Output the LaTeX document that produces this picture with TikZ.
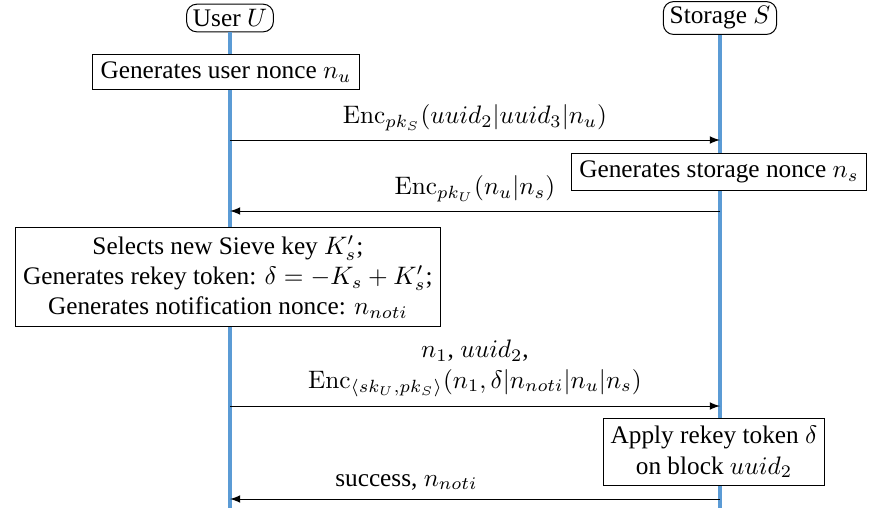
\documentclass[tikz,border=0pt]{standalone}
\usepackage{amsmath}
\usepackage[no-math]{fontspec}
\setmainfont{Liberation Serif}
\usepackage{tikz}
\usetikzlibrary{positioning, arrows}

\begin{document}
\begin{tikzpicture}[x=0.0139cm, y=-0.0139cm]
\tikzstyle{actor}=[rectangle, draw=black, rounded corners=4pt, fill=white, inner xsep=2.5pt, inner ysep=2pt]
\tikzstyle{action}=[rectangle, draw=black, fill=white, text centered, inner sep=3pt]
\tikzstyle{life}=[-, line width=1.3pt, draw={rgb,255:red,91;green,155;blue,213}]
\tikzstyle{msg}=[->, >=latex, thin]

\def \u {230}
\def \s {720}

\useasboundingbox (0,0) rectangle (870,510);

    \node (user) [actor] at (\u,18) {User $U$};
    \node (stor) [actor] at (\s,18) {Storage $S$};
    \coordinate (userend) at (\u,508);
    \coordinate (storend) at (\s,508);

\draw[life] (user) -- (userend);
\draw[life] (stor) -- (storend);

    \node (nu) [action] at (226,72) {Generates user nonce $n_u$};

    \coordinate (m1a) at (\u,140);
    \coordinate (m1b) at (\s,140);

    \node (ns) [action] at (719,172) {Generates storage nonce $n_s$};

    \coordinate (m2a) at (\s,211);
    \coordinate (m2b) at (\u,211);

    \node (rekey) [action, align=center] at (228,277) {
            Selects new Sieve key $K'_s$;\\
            Generates rekey token: $\delta=-K_s+K'_s$;\\
            Generates notification nonce: $n_{noti}$
    };

    \coordinate (m3a) at (\u,406);
    \coordinate (m3b) at (\s,406);

    \node (apply) [action, align=center] at (714,452) {
            Apply rekey token $\delta$\\
            on block $uuid_2$
    };

    \coordinate (m4a) at (\s,499);
    \coordinate (m4b) at (\u,499);

\draw[msg] (m1a) -- node[above] {$\mathrm{Enc}_{pk_S}(uuid_2|uuid_3|n_u)$} (m1b);
\draw[msg] (m2a) -- node[above] {$\mathrm{Enc}_{pk_U}(n_u|n_s)$} (m2b);
\draw[msg] (m3a) -- node[above, align=center] {$n_1$, $uuid_2$,\\
            $\mathrm{Enc}_{\langle sk_U,pk_S\rangle}(n_1,\delta|n_{noti}|n_u|n_s)$} (m3b);
\draw[msg] (m4a) -- node[above, pos=0.64] {success, $n_{noti}$} (m4b);

\end{tikzpicture}
\end{document}
